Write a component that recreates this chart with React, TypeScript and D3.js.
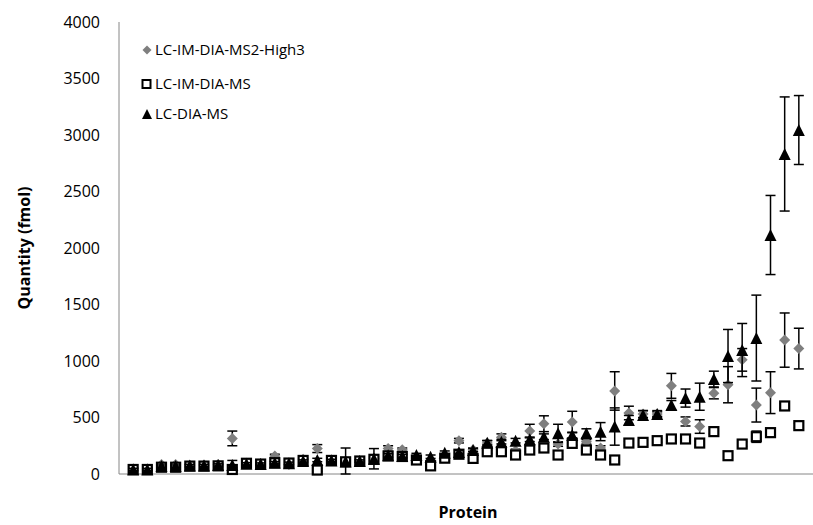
import React from "react";
import * as d3 from "d3";

const proteins = d3.range(1, 49);

const high3Values = [45, 45, 85, 85, 75, 80, 85, 315, 95, 90, 160, 85, 130, 225, 125, 110, 115, 140, 225, 215, 140, 110, 150, 295, 215, 275, 325, 205, 380, 445, 265, 460, 285, 230, 735, 540, 530, 530, 780, 465, 420, 715, 790, 1010, 610, 720, 1185, 1110];
const high3Errors = [10, 10, 10, 10, 10, 10, 10, 65, 10, 10, 15, 10, 10, 35, 10, 10, 10, 15, 25, 15, 10, 10, 15, 20, 15, 20, 30, 15, 60, 70, 20, 95, 20, 20, 170, 60, 30, 20, 110, 40, 60, 50, 160, 100, 150, 185, 240, 180];

const imValues = [40, 40, 60, 60, 70, 70, 72, 40, 95, 88, 100, 97, 120, 35, 120, 108, 115, 130, 160, 155, 124, 72, 140, 175, 138, 197, 197, 168, 212, 230, 168, 271, 212, 168, 124, 274, 280, 295, 310, 310, 274, 375, 162, 265, 330, 366, 602, 428];
const imErrors = [12, 12, 12, 12, 15, 12, 12, 15, 12, 12, 12, 12, 12, 12, 12, 12, 12, 15, 15, 15, 12, 15, 15, 15, 12, 15, 15, 15, 15, 15, 15, 15, 15, 15, 15, 15, 15, 15, 15, 15, 15, 20, 20, 20, 50, 20, 20, 20];

const diaValues = [40, 40, 70, 70, 75, 75, 80, 80, 90, 88, 100, 95, 115, 124, 120, 110, 115, 135, 165, 160, 168, 153, 189, 195, 212, 277, 286, 295, 307, 330, 360, 345, 360, 375, 420, 478, 522, 531, 610, 672, 684, 840, 1044, 1097, 1203, 2115, 2832, 3044];
const diaErrors = [10, 10, 10, 10, 10, 10, 10, 40, 10, 10, 10, 10, 10, 15, 10, 120, 10, 90, 15, 15, 15, 15, 15, 15, 15, 20, 20, 20, 20, 25, 80, 25, 40, 80, 165, 40, 40, 30, 40, 80, 120, 70, 235, 235, 380, 350, 505, 305];

const yTicks = [0, 500, 1000, 1500, 2000, 2500, 3000, 3500, 4000];
const seriesNames = ["LC-IM-DIA-MS2-High3", "LC-IM-DIA-MS", "LC-DIA-MS"];

const W = 813;
const H = 525;
const FONT = "'Open Sans', sans-serif";

export default function App() {
  const x = d3.scaleLinear().domain([0, 49]).range([119, 813]);
  const y = d3.scaleLinear().domain([0, 4000]).range([474, 22]);

  const diamond = (s: number) => `M0,${-s / 2}L${s / 2},0L0,${s / 2}L${-s / 2},0Z`;
  const tri = (s: number) => `M0,${-s / 2}L${s / 2},${s / 2}L${-s / 2},${s / 2}Z`;

  const errBars = (vals: number[], errs: number[], key: string) =>
    proteins.map((p, i) => {
      const cx = x(p);
      const y1 = y(vals[i] + errs[i]);
      const y0 = y(Math.max(0, vals[i] - errs[i]));
      return (
        <g key={key + i} stroke="#000" strokeWidth={1.5}>
          <line x1={cx} x2={cx} y1={y1} y2={y0} />
          <line x1={cx - 5} x2={cx + 5} y1={y1} y2={y1} />
          <line x1={cx - 5} x2={cx + 5} y1={y0} y2={y0} />
        </g>
      );
    });

  return (
    <svg width={W} height={H} style={{ position: "absolute", left: 0, top: 0 }}>
      <rect width={W} height={H} fill="#fff" />
      {/* axes */}
      <line x1={119} x2={119} y1={y(4000)} y2={y(0)} stroke="#868686" strokeWidth={1} />
      <line x1={119} x2={813} y1={y(0)} y2={y(0)} stroke="#868686" strokeWidth={1} />
      {yTicks.map((t) => (
        <text key={t} x={100} y={y(t)} dy="0.35em" textAnchor="end" fontFamily={FONT} fontSize={16} fill="#000">
          {t}
        </text>
      ))}
      <text transform={`translate(24,${(y(0) + y(4000)) / 2}) rotate(-90)`} textAnchor="middle" dy="0.35em" fontFamily={FONT} fontSize={16} fontWeight="bold">
        Quantity (fmol)
      </text>
      <text x={468} y={518} textAnchor="middle" fontFamily={FONT} fontSize={16} fontWeight="bold">
        Protein
      </text>

      {/* series 1: diamonds */}
      {errBars(high3Values, high3Errors, "e1")}
      {proteins.map((p, i) => (
        <path key={"d" + i} d={diamond(11)} transform={`translate(${x(p)},${y(high3Values[i])})`} fill="#7f7f7f" />
      ))}
      {/* series 2: squares */}
      {errBars(imValues, imErrors, "e2")}
      {proteins.map((p, i) => (
        <rect key={"s" + i} x={x(p) - 4.5} y={y(imValues[i]) - 4.5} width={9} height={9} fill="#fff" stroke="#000" strokeWidth={2.2} />
      ))}
      {/* series 3: triangles */}
      {errBars(diaValues, diaErrors, "e3")}
      {proteins.map((p, i) => (
        <path key={"t" + i} d={tri(12)} transform={`translate(${x(p)},${y(diaValues[i])})`} fill="#000" />
      ))}

      {/* legend */}
      <g fontFamily={FONT} fontSize={15} fill="#000">
        <path d={diamond(9)} transform="translate(147,50)" fill="#7f7f7f" />
        <text x={155} y={50} dy="0.35em">{seriesNames[0]}</text>
        <rect x={142.5} y={80} width={8} height={8} fill="#fff" stroke="#000" strokeWidth={2} />
        <text x={155} y={84} dy="0.35em">{seriesNames[1]}</text>
        <path d={tri(10)} transform="translate(147,114)" fill="#000" />
        <text x={155} y={114} dy="0.35em">{seriesNames[2]}</text>
      </g>
    </svg>
  );
}
